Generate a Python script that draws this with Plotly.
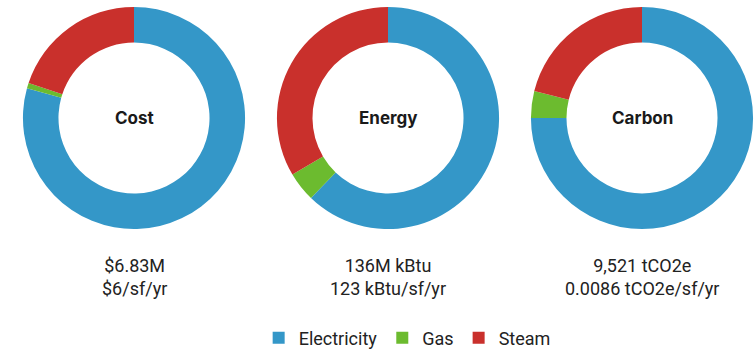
import plotly.graph_objects as go

# Utility breakdown per metric (percent of total)
sources = ["Electricity", "Gas", "Steam"]
colors = ["#3497c8", "#6cbb2f", "#c9302c"]

metrics = ["Cost", "Energy", "Carbon"]
cost_share = [79.3, 0.8, 19.9]
energy_share = [62.2, 4.3, 33.5]
carbon_share = [75.0, 3.9, 21.1]
totals = ["$6.83M", "136M kBtu", "9,521 tCO2e"]
intensities = ["$6/sf/yr", "123 kBtu/sf/yr", "0.0086 tCO2e/sf/yr"]

shares = [cost_share, energy_share, carbon_share]

W, H = 754, 357
centers_x = [134, 388, 642]
center_y = 119
radius = 112

fig = go.Figure()
for i, (name, vals) in enumerate(zip(metrics, shares)):
    cx = centers_x[i]
    fig.add_trace(go.Pie(
        labels=sources,
        values=vals,
        marker=dict(colors=colors, line=dict(width=0)),
        hole=0.68,
        sort=False,
        direction="clockwise",
        rotation=0,
        textinfo="none",
        showlegend=(i == 0),
        domain=dict(
            x=[(cx - radius) / W, (cx + radius) / W],
            y=[1 - (center_y + radius) / H, 1 - (center_y - radius) / H],
        ),
        name=name,
    ))
    fig.add_annotation(
        x=cx / W, y=1 - center_y / H, xref="paper", yref="paper",
        xanchor="center", yanchor="middle",
        text=f"<b>{name}</b>", showarrow=False,
        font=dict(family="Inter", size=17, color="#1a1a1a"),
    )
    fig.add_annotation(
        x=cx / W, y=1 - 279 / H, xref="paper", yref="paper",
        xanchor="center", yanchor="middle",
        text=f"{totals[i]}<br>{intensities[i]}", showarrow=False,
        font=dict(family="Roboto", size=18, color="#222222"),
        align="center",
    )

fig.update_layout(
    width=W, height=H,
    margin=dict(l=0, r=0, t=0, b=0),
    paper_bgcolor="white",
    plot_bgcolor="white",
    legend=dict(
        orientation="h", x=0.54, xanchor="center", y=1 - 341 / H, yanchor="middle",
        font=dict(family="Roboto", size=18, color="#222222"),
        itemwidth=30,
    ),
)

fig.write_html("out.html")
